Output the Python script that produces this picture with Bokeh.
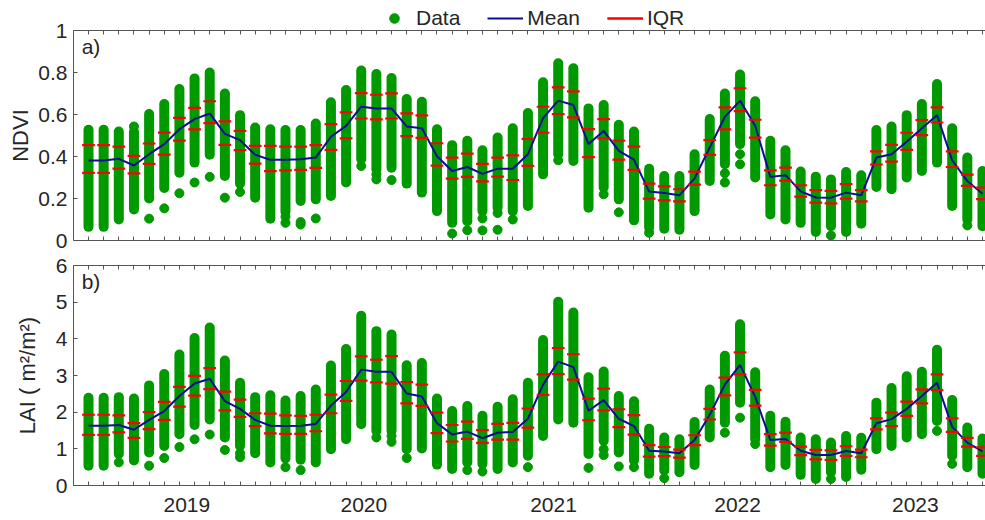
from bokeh.plotting import figure
from bokeh.models import (ColumnDataSource, Range1d, LinearAxis, FixedTicker,
                          Legend, LegendItem, Label)
from bokeh.transform import dodge
from bokeh.layouts import column
from bokeh.embed import file_html
from bokeh.resources import INLINE

# ---------------- data (monthly composites, Jun 2018 - May 2023) ----------------
months = list(range(60))
year_labels = ["2019", "2020", "2021", "2022", "2023"]
year_pos = [6.49, 18.17, 30.69, 42.84, 54.57]

ndvi_top = [0.527, 0.527, 0.519, 0.518, 0.602, 0.650, 0.721, 0.772, 0.800, 0.700,
            0.597, 0.538, 0.530, 0.526, 0.526, 0.557, 0.658, 0.717, 0.809, 0.793,
            0.774, 0.674, 0.661, 0.530, 0.454, 0.475, 0.430, 0.490, 0.534, 0.607,
            0.753, 0.844, 0.820, 0.629, 0.645, 0.551, 0.519, 0.342, 0.307, 0.307,
            0.411, 0.578, 0.700, 0.790, 0.663, 0.475, 0.430, 0.328, 0.304, 0.291,
            0.326, 0.311, 0.526, 0.543, 0.597, 0.650, 0.745, 0.534, 0.395, 0.331]
ndvi_bot = [0.065, 0.065, 0.100, 0.148, 0.200, 0.250, 0.323, 0.371, 0.408, 0.307,
            0.271, 0.204, 0.104, 0.137, 0.188, 0.196, 0.212, 0.276, 0.387, 0.339,
            0.347, 0.271, 0.228, 0.140, 0.084, 0.092, 0.140, 0.156, 0.140, 0.164,
            0.315, 0.411, 0.379, 0.156, 0.252, 0.196, 0.096, 0.061, 0.056, 0.051,
            0.140, 0.283, 0.363, 0.459, 0.300, 0.124, 0.100, 0.084, 0.041, 0.068,
            0.041, 0.080, 0.255, 0.244, 0.300, 0.331, 0.371, 0.164, 0.100, 0.068]
ndvi_q3 = [0.454, 0.454, 0.447, 0.403, 0.462, 0.514, 0.584, 0.632, 0.663, 0.567,
           0.522, 0.451, 0.451, 0.447, 0.447, 0.454, 0.554, 0.610, 0.702, 0.694,
           0.701, 0.605, 0.596, 0.463, 0.395, 0.414, 0.365, 0.395, 0.405, 0.484,
           0.637, 0.729, 0.710, 0.530, 0.578, 0.476, 0.447, 0.271, 0.258, 0.244,
           0.328, 0.478, 0.634, 0.725, 0.575, 0.334, 0.347, 0.263, 0.240, 0.236,
           0.268, 0.240, 0.424, 0.455, 0.513, 0.573, 0.634, 0.424, 0.314, 0.252]
ndvi_q1 = [0.322, 0.322, 0.342, 0.320, 0.365, 0.409, 0.476, 0.529, 0.559, 0.455,
           0.430, 0.366, 0.330, 0.334, 0.336, 0.346, 0.432, 0.486, 0.581, 0.577,
           0.581, 0.497, 0.489, 0.357, 0.295, 0.303, 0.282, 0.304, 0.288, 0.355,
           0.513, 0.602, 0.586, 0.397, 0.486, 0.385, 0.336, 0.199, 0.191, 0.186,
           0.266, 0.408, 0.529, 0.616, 0.490, 0.263, 0.285, 0.209, 0.180, 0.177,
           0.199, 0.186, 0.362, 0.376, 0.432, 0.502, 0.562, 0.350, 0.260, 0.197]
ndvi_mean = [0.381, 0.381, 0.389, 0.357, 0.411, 0.459, 0.530, 0.578, 0.605, 0.508,
             0.478, 0.408, 0.384, 0.384, 0.387, 0.395, 0.494, 0.546, 0.637, 0.629,
             0.629, 0.543, 0.535, 0.401, 0.331, 0.350, 0.317, 0.342, 0.342, 0.411,
             0.583, 0.666, 0.645, 0.459, 0.522, 0.427, 0.385, 0.233, 0.226, 0.215,
             0.296, 0.443, 0.589, 0.666, 0.546, 0.303, 0.311, 0.234, 0.205, 0.204,
             0.228, 0.215, 0.395, 0.411, 0.470, 0.534, 0.597, 0.382, 0.283, 0.223]
ndvi_out_month = [3, 4, 5, 6, 7, 8, 9, 10, 13, 13, 14, 14, 15, 18, 19, 19, 20,
                  24, 25, 26, 26, 27, 27, 28, 31, 34, 35, 37, 42, 42, 43, 43, 49, 58]
ndvi_out_value = [0.543, 0.104, 0.153, 0.225, 0.276, 0.303, 0.204, 0.231, 0.113, 0.084,
                  0.088, 0.076, 0.105, 0.355, 0.315, 0.291, 0.288,
                  0.033, 0.049, 0.105, 0.048, 0.131, 0.051, 0.100, 0.382, 0.220, 0.134,
                  0.037, 0.320, 0.276, 0.411, 0.363, 0.024, 0.072]

lai_top = [2.39, 2.39, 2.41, 2.37, 2.73, 3.04, 3.57, 4.02, 4.31, 3.41,
           2.80, 2.41, 2.46, 2.32, 2.44, 2.62, 3.27, 3.72, 4.63, 4.21,
           4.12, 3.28, 3.34, 2.37, 2.03, 2.17, 1.90, 2.15, 2.35, 2.80,
           3.97, 5.01, 4.72, 2.95, 3.11, 2.44, 2.30, 1.55, 1.31, 1.26,
           1.73, 2.62, 3.54, 4.40, 3.09, 1.90, 1.74, 1.31, 1.26, 1.17,
           1.35, 1.30, 2.26, 2.66, 2.98, 3.10, 3.70, 2.33, 1.58, 1.28]
lai_bot = [0.54, 0.54, 0.86, 0.68, 0.90, 1.08, 1.40, 1.65, 1.80, 1.31,
           1.08, 0.88, 0.63, 0.74, 0.70, 0.63, 0.99, 1.26, 1.67, 1.49,
           1.49, 0.99, 1.01, 0.57, 0.45, 0.63, 0.59, 0.45, 0.63, 0.81,
           1.35, 1.80, 1.71, 0.86, 1.22, 0.90, 0.68, 0.32, 0.41, 0.36,
           0.56, 1.31, 1.71, 2.26, 1.26, 0.50, 0.56, 0.29, 0.18, 0.36,
           0.23, 0.43, 0.99, 1.08, 1.31, 1.40, 1.76, 0.81, 0.50, 0.32]
lai_q3 = [1.93, 1.93, 1.91, 1.70, 2.00, 2.28, 2.69, 2.99, 3.20, 2.56,
          2.34, 1.97, 1.96, 1.91, 1.90, 1.93, 2.48, 2.85, 3.52, 3.43,
          3.53, 2.82, 2.75, 1.99, 1.65, 1.74, 1.51, 1.68, 1.71, 2.10,
          3.03, 3.75, 3.58, 2.37, 2.64, 2.08, 1.92, 1.10, 1.05, 0.98,
          1.37, 2.09, 2.94, 3.63, 2.61, 1.40, 1.44, 1.06, 0.97, 0.96,
          1.07, 0.98, 1.83, 1.99, 2.29, 2.62, 3.03, 1.83, 1.30, 1.04]
lai_q1 = [1.38, 1.38, 1.45, 1.30, 1.54, 1.79, 2.15, 2.45, 2.63, 2.05,
          1.87, 1.62, 1.42, 1.41, 1.41, 1.48, 1.97, 2.31, 2.86, 2.81,
          2.78, 2.24, 2.17, 1.43, 1.20, 1.27, 1.16, 1.25, 1.25, 1.58,
          2.47, 3.04, 2.89, 1.78, 2.05, 1.59, 1.39, 0.79, 0.80, 0.76,
          1.10, 1.80, 2.46, 3.03, 2.18, 1.09, 1.19, 0.83, 0.71, 0.70,
          0.81, 0.77, 1.53, 1.62, 1.90, 2.24, 2.60, 1.46, 1.06, 0.81]
lai_mean = [1.63, 1.63, 1.65, 1.52, 1.79, 2.03, 2.44, 2.78, 2.91, 2.30,
            2.09, 1.79, 1.63, 1.62, 1.63, 1.68, 2.18, 2.55, 3.16, 3.10,
            3.10, 2.51, 2.43, 1.70, 1.39, 1.47, 1.29, 1.44, 1.46, 1.82,
            2.75, 3.38, 3.23, 2.04, 2.33, 1.82, 1.62, 0.95, 0.93, 0.88,
            1.24, 1.93, 2.75, 3.29, 2.42, 1.24, 1.27, 0.95, 0.83, 0.83,
            0.94, 0.88, 1.70, 1.81, 2.09, 2.44, 2.80, 1.60, 1.17, 0.93]
lai_out_month = [2, 4, 5, 6, 7, 8, 9, 10, 10, 13, 14, 19, 20, 20, 21, 25, 26,
                 29, 33, 34, 34, 35, 36, 38, 42, 43, 44, 49, 56, 57]
lai_out_value = [0.63, 0.54, 0.75, 1.05, 1.26, 1.39, 0.97, 0.88, 0.77, 0.50, 0.42,
                 1.31, 1.35, 1.19, 0.75, 0.42, 0.38, 0.50, 0.48, 0.99, 0.83,
                 0.52, 0.50, 0.20, 1.44, 1.85, 1.13, 0.18, 1.49, 0.59]

# ---------------- style ----------------
FONT = "Liberation Sans"
TXT = "#262626"
AXC = "#555555"
GREEN = "#009900"
NAVY = "#0c0c96"
RED = "#ff0000"
W = 985


def style_axis(ax):
    ax.axis_line_color = AXC
    ax.axis_line_width = 1
    ax.major_tick_line_color = AXC
    ax.minor_tick_line_color = AXC
    ax.major_label_text_font = FONT
    ax.major_label_text_font_size = "21px"
    ax.major_label_text_color = TXT
    ax.axis_label_text_font = FONT
    ax.axis_label_text_font_size = "22px"
    ax.axis_label_text_font_style = "normal"
    ax.axis_label_text_color = TXT


def add_marks(p, src, osrc):
    r_stack = p.segment(x0="x", y0="bot", x1="x", y1="top", source=src,
                        line_color=GREEN, line_width=10, line_cap="round")
    r_data = p.scatter("x", "y", source=osrc, marker="circle", size=9,
                       fill_color=GREEN, line_color=GREEN, line_width=1)
    r_mean = p.line("x", "mean", source=src, line_color=NAVY, line_width=2)
    r_iqr = [p.segment(x0=dodge("x", -0.42), y0=col, x1=dodge("x", 0.42), y1=col,
                       source=src, line_color=RED, line_width=2.2)
             for col in ("q3", "q1")]
    return r_data, r_mean, r_iqr


def panel(top, bot, q3, q1, mean, out_m, out_v, ymax, yticks, ylabels, ylabel,
          tag, tag_y, height, b_top, b_bot, bottom_labels, lab_standoff):
    p = figure(width=W, height=height, x_range=Range1d(-0.99, 59.2),
               y_range=Range1d(0, ymax), output_backend="svg",
               toolbar_location=None, min_border_left=73, min_border_right=0,
               min_border_top=b_top, min_border_bottom=b_bot)
    p.grid.grid_line_color = None
    p.outline_line_color = None
    p.background_fill_color = "white"

    src = ColumnDataSource(dict(x=months, top=top, bot=bot, q3=q3, q1=q1, mean=mean))
    osrc = ColumnDataSource(dict(x=out_m, y=out_v))
    add_marks(p, src, osrc)

    # y axis
    ya = p.yaxis[0]
    style_axis(ya)
    ya.ticker = FixedTicker(ticks=yticks)
    ya.major_label_overrides = {t: l for t, l in zip(yticks, ylabels)}
    ya.major_tick_in = 4
    ya.major_tick_out = 0
    ya.minor_tick_in = 0
    ya.minor_tick_out = 0
    ya.major_label_standoff = 6
    ya.axis_label = ylabel
    ya.axis_label_standoff = lab_standoff

    # bottom axis
    xa = p.xaxis[0]
    style_axis(xa)
    if bottom_labels:
        xa.ticker = FixedTicker(ticks=year_pos, minor_ticks=months)
        xa.major_label_overrides = {t: l for t, l in zip(year_pos, year_labels)}
    else:
        xa.ticker = FixedTicker(ticks=[], minor_ticks=months)
    xa.major_tick_in = 0
    xa.major_tick_out = 0
    xa.minor_tick_in = 4
    xa.minor_tick_out = 0
    xa.major_label_standoff = 12

    # top (box) axis
    ta = LinearAxis(ticker=FixedTicker(ticks=[], minor_ticks=months))
    style_axis(ta)
    ta.major_tick_in = 0
    ta.major_tick_out = 0
    ta.minor_tick_in = 4
    ta.minor_tick_out = 0
    ta.major_label_standoff = 0
    p.add_layout(ta, "above")

    p.add_layout(Label(x=-0.45, y=tag_y, text=tag, text_baseline="top",
                       text_align="left", text_font=FONT, text_font_size="21px",
                       text_color=TXT))
    return p


# ---------------- legend strip (above panel a) ----------------
# It shows the NDVI series with a y window above the data, so only the
# legend is visible; the legend glyphs come from these renderers.
p0 = figure(width=W, height=30, x_range=Range1d(-0.99, 59.2), y_range=Range1d(2, 3),
            output_backend="svg", toolbar_location=None,
            x_axis_location=None, y_axis_location=None,
            min_border_left=73, min_border_right=0, min_border_top=0,
            min_border_bottom=0)
p0.grid.visible = False
p0.outline_line_color = None
src0 = ColumnDataSource(dict(x=months, top=ndvi_top, bot=ndvi_bot, q3=ndvi_q3,
                             q1=ndvi_q1, mean=ndvi_mean))
osrc0 = ColumnDataSource(dict(x=ndvi_out_month, y=ndvi_out_value))
rd, rm, rq = add_marks(p0, src0, osrc0)
legend = Legend(items=[LegendItem(label="Data", renderers=[rd]),
                       LegendItem(label="Mean", renderers=[rm]),
                       LegendItem(label="IQR", renderers=rq)],
                orientation="horizontal", location=(303, 0),
                glyph_width=36, glyph_height=24, label_standoff=4, spacing=27,
                padding=0, margin=0, border_line_color=None,
                background_fill_alpha=0, label_text_font=FONT,
                label_text_font_size="21px", label_text_color=TXT)
p0.add_layout(legend, "center")

p1 = panel(ndvi_top, ndvi_bot, ndvi_q3, ndvi_q1, ndvi_mean,
           ndvi_out_month, ndvi_out_value, 1,
           [0, 0.2, 0.4, 0.6, 0.8, 1],
           ["0", "0.2", "0.4", "0.6", "0.8", "1"],
           "NDVI", "a)", 0.978, 232, 10, 12, False, 2)
p1.border_fill_alpha = 0
p1.margin = (-10, 0, 0, 0)

p2 = panel(lai_top, lai_bot, lai_q3, lai_q1, lai_mean,
           lai_out_month, lai_out_value, 6,
           [0, 1, 2, 3, 4, 5, 6],
           ["0", "1", "2", "3", "4", "5", "6"],
           "LAI ( m²/m²)", "b)", 5.87, 268, 13, 35, True, 13)

layout = column(p0, p1, p2, spacing=0)
open("out.html", "w").write(file_html(layout, INLINE))
